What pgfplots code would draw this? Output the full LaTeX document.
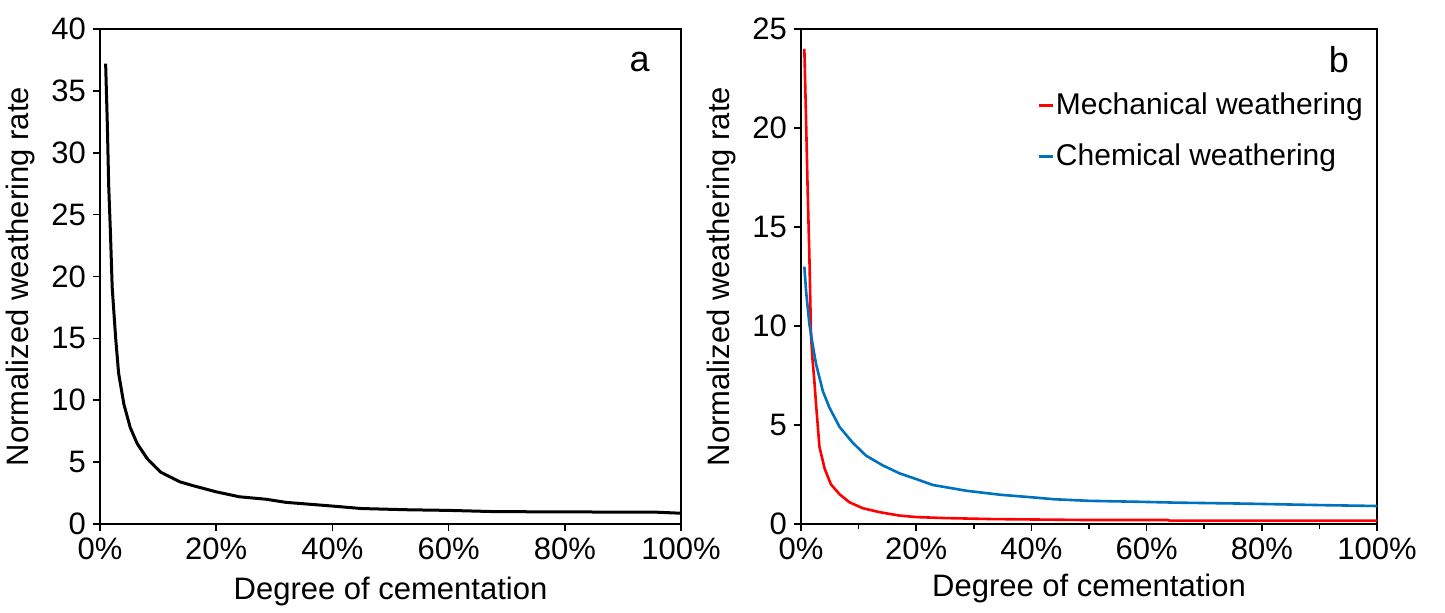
\documentclass[border=0pt]{standalone}
\usepackage{pgfplots}
\pgfplotsset{compat=1.18}
\usepackage{fontspec}
\setmainfont{Liberation Sans}

\definecolor{mechred}{RGB}{255,0,0}
\definecolor{chemblue}{RGB}{0,112,192}

\pgfplotsset{
  panel/.style={
    scale only axis,
    height=247.5pt,
    xmin=0, xmax=100,
    xtick={0,20,...,100},
    xticklabel={\pgfmathprintnumber{\tick}\%},
    tick align=outside,
    xtick pos=bottom, ytick pos=left,
    major tick length=3.5pt,
    minor tick length=2.5pt,
    axis line style={line width=0.8pt},
    every tick/.style={black, line width=0.8pt},
    /pgf/number format/assume math mode=true,
    tick label style={font=\fontsize{15.5}{18}\selectfont},
    label style={font=\fontsize{15.5}{18}\selectfont},
    xlabel={Degree of cementation},
    ylabel={Normalized weathering rate},
    ylabel style={at={(axis description cs:-0.1,0.5)}, anchor=south},
  },
}

\begin{document}
\begin{tikzpicture}
\useasboundingbox (-50pt,-44pt) rectangle (672.5pt,262pt);

% panel a
\begin{axis}[panel,
  at={(0pt,0pt)}, anchor=south west,
  width=290.5pt,
  ymin=0, ymax=40, ytick={0,5,...,40},
  xlabel style={at={(axis description cs:0.5,-0.1535)}, anchor=base},
]
\addplot[black, line width=1.5pt] coordinates {
  (0.97,37.2) (1.25,32.5) (1.5,27.3) (1.8,23.5) (2.1,19.1) (2.7,15.0)
  (3.2,12.2) (4.1,9.7) (5.2,7.8) (6.4,6.5) (8.1,5.3) (10.4,4.2)
  (13.8,3.4) (16,3.1) (20,2.6) (24,2.2) (28.6,2.0) (32,1.75)
  (40,1.45) (45,1.25) (53,1.15) (60,1.1) (68,1.0) (96,0.95) (100,0.87)
};
\node[anchor=base, font=\fontsize{18}{21}\selectfont] at (rel axis cs:0.929,0.915) {a};
\end{axis}

% panel b
\begin{axis}[panel,
  at={(350.5pt,0pt)}, anchor=south west,
  width=288pt,
  ymin=0, ymax=25, ytick={0,5,...,25},
  minor x tick num=1,
  xlabel style={at={(axis description cs:0.5,-0.147)}, anchor=base},
  legend style={at={(rel axis cs:0.4097,0.871)}, anchor=north west,
    draw=none, fill=none, inner sep=0pt, row sep=13pt, column sep=1pt,
    font=\fontsize{15}{18}\selectfont, nodes={inner sep=0pt}},
  legend cell align=left,
  legend image code/.code={\draw[#1] (0pt,0pt) -- (7pt,0pt);},
]
\addplot[mechred, line width=1.3pt] coordinates {
  (0.58,24.0) (0.87,20.5) (1.16,16.8) (1.45,13.6) (1.74,9.5) (2.0,8.3)
  (2.3,7.3) (2.6,6.1) (3.2,3.9) (4.1,2.8) (5.2,2.0) (6.7,1.5) (8.4,1.1)
  (10.7,0.8) (13.6,0.6) (17,0.43) (20,0.35) (25,0.3) (33,0.25) (50,0.2)
  (63.7,0.2) (64,0.17) (100,0.17)
};
\addlegendentry{Mechanical weathering}
\addplot[chemblue, line width=1.3pt] coordinates {
  (0.58,13.0) (0.87,11.8) (1.45,10.1) (2.0,9.1) (2.6,8.1) (3.8,6.7)
  (4.9,5.9) (6.7,4.9) (9.0,4.1) (11.3,3.45) (14.2,2.96) (17.1,2.56)
  (20,2.27) (22.9,1.97) (28.7,1.68) (34.5,1.48) (40,1.35) (44,1.25)
  (50,1.17) (59,1.12) (65,1.08) (77,1.03) (91,0.95) (100,0.91)
};
\addlegendentry{Chemical weathering}
\node[anchor=base, font=\fontsize{18}{21}\selectfont] at (rel axis cs:0.934,0.913) {b};
\end{axis}
\end{tikzpicture}
\end{document}
